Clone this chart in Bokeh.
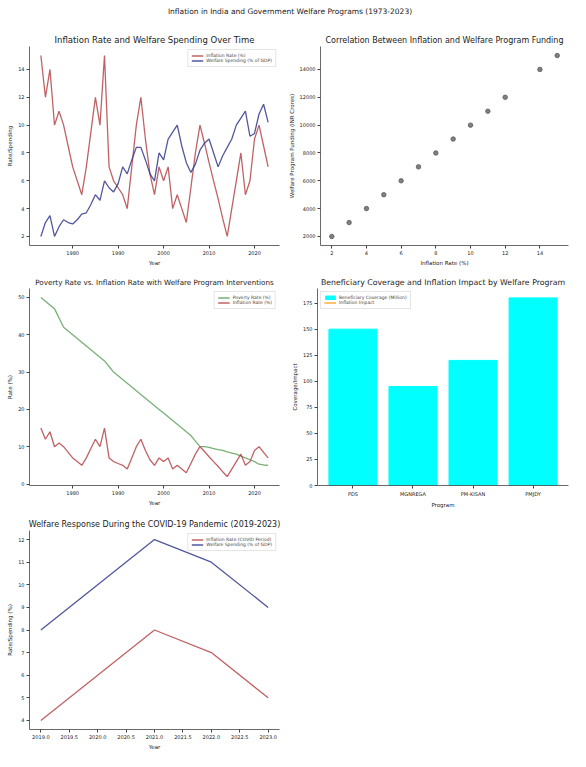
from bokeh.plotting import figure
from bokeh.layouts import column, row
from bokeh.models import Div, FixedTicker, PrintfTickFormatter, Range1d, FactorRange, ColumnDataSource
from bokeh.embed import file_html
from bokeh.resources import INLINE

# ---------------- data ----------------
years = list(range(1973, 2024))
inflation = [15, 12, 14, 10, 11, 10, 8.5, 7, 6, 5,
             7, 9.5, 12, 10, 15, 7, 6, 5.5, 5, 4,
             7, 10, 12, 9, 6.5, 5, 7, 6, 7, 4,
             5, 4, 3, 5.5, 8, 10, 8.7, 7.3, 6, 4.7,
             3.3, 2, 4, 6, 8, 5, 6, 9, 10, 8.5,
             7]
welfare = [2, 3, 3.5, 2, 2.7, 3.2, 3, 2.9, 3.2, 3.6,
           3.7, 4.3, 5, 4.6, 6, 5.5, 5.2, 5.8, 7, 6.5,
           7.5, 8.4, 8.4, 7.5, 6.5, 6, 8, 7.5, 9, 9.5,
           10, 8.5, 7.3, 6.6, 7.2, 8.2, 8.7, 9, 8, 7,
           7.8, 8.4, 9, 10, 10.5, 11, 9.2, 9.4, 10.8, 11.5,
           10.2]
poverty = [50, 49, 48, 47, 44.5, 42, 41, 40, 39, 38,
           37, 36, 35, 34, 33, 31.5, 30, 29, 28, 27,
           26, 25, 24, 23, 22, 21, 20, 19, 18, 17,
           16, 15, 14, 13, 11.5, 10, 10, 9.8, 9.5, 9.2,
           9, 8.6, 8.3, 8, 7.5, 7, 6.5, 6, 5.3, 5.1,
           5]
scatter_inflation = [2, 3, 4, 5, 6, 7, 8, 9, 10, 11, 12, 14, 15]
scatter_funding = [2000, 3000, 4000, 5000, 6000, 7000, 8000, 9000, 10000, 11000, 12000, 14000, 15000]
programs = ["PDS", "MGNREGA", "PM-KISAN", "PMJDY"]
coverage = [150, 95, 120, 180]
covid_years = [2019, 2020, 2021, 2022, 2023]
covid_inflation = [4, 6, 8, 7, 5]
covid_welfare = [8, 10, 12, 11, 9]

year_ticks = [1980, 1990, 2000, 2010, 2020]
covid_ticks = [2019.0, 2019.5, 2020.0, 2020.5, 2021.0, 2021.5, 2022.0, 2022.5, 2023.0]

FONT = "DejaVu Sans"
RED = "#b5474a"
BLUE = "#34398c"
GREEN = "#5fa35f"
W = 285
H = 242


def make_fig(title, title_size, xlabel, ylabel, left, right, **kw):
    p = figure(width=W, height=H, title=title, output_backend="svg", toolbar_location=None,
               min_border_left=left, min_border_right=right, min_border_top=20, min_border_bottom=4, **kw)
    p.title.text_font = FONT
    p.title.text_font_size = title_size
    p.title.text_font_style = "normal"
    p.title.align = "center"
    p.title.text_color = "#222222"
    p.title.standoff = 3
    p.xgrid.visible = False
    p.ygrid.visible = False
    p.outline_line_color = None
    p.xaxis.axis_label = xlabel
    p.yaxis.axis_label = ylabel
    for ax in (p.xaxis, p.yaxis):
        ax.axis_label_text_font = FONT
        ax.axis_label_text_font_size = "5.5px"
        ax.axis_label_text_font_style = "normal"
        ax.axis_label_text_color = "#222222"
        ax.major_label_text_font = FONT
        ax.major_label_text_font_size = "5px"
        ax.major_label_text_color = "#222222"
        ax.minor_tick_line_color = None
        ax.major_tick_out = 3
        ax.major_tick_in = 0
        ax.major_tick_line_color = "#444444"
        ax.axis_line_color = "#444444"
        ax.axis_line_width = 0.8
        ax.axis_label_standoff = 2
        ax.major_label_standoff = 2
    return p


def style_legend(p, location):
    lg = p.legend[0]
    lg.location = location
    lg.label_text_font = FONT
    lg.label_text_font_size = "4.5px"
    lg.label_height = 5
    lg.glyph_height = 5
    lg.glyph_width = 12
    lg.spacing = 0
    lg.padding = 3
    lg.margin = 3
    lg.label_standoff = 3
    lg.border_line_color = "#cccccc"
    lg.background_fill_alpha = 0.85


# ---- chart 1
p1 = make_fig("Inflation Rate and Welfare Spending Over Time", "8.5px", "Year", "Rate/Spending", 29, 6,
              x_range=Range1d(1970.5, 2025.5), y_range=Range1d(1.35, 15.65))
p1.line(years, inflation, color=RED, line_width=1.3, line_alpha=0.85, legend_label="Inflation Rate (%)")
p1.line(years, welfare, color=BLUE, line_width=1.3, line_alpha=0.85, legend_label="Welfare Spending (% of GDP)")
p1.xaxis.ticker = FixedTicker(ticks=year_ticks)
p1.yaxis.ticker = FixedTicker(ticks=[2, 4, 6, 8, 10, 12, 14])
style_legend(p1, "top_right")

# ---- chart 2
p2 = make_fig("Correlation Between Inflation and Welfare Program Funding", "8px", "Inflation Rate (%)",
              "Welfare Program Funding (INR Crores)", 32, 2,
              x_range=Range1d(1.35, 15.65), y_range=Range1d(1350, 15650))
p2.scatter(scatter_inflation, scatter_funding, size=4.5, color="#555555", alpha=0.75)
p2.xaxis.ticker = FixedTicker(ticks=[2, 4, 6, 8, 10, 12, 14])
p2.yaxis.ticker = FixedTicker(ticks=[2000, 4000, 6000, 8000, 10000, 12000, 14000])

# ---- chart 3
p3 = make_fig("Poverty Rate vs. Inflation Rate with Welfare Program Interventions", "7.2px", "Year", "Rate (%)", 29, 6,
              x_range=Range1d(1970.5, 2025.5), y_range=Range1d(-0.4, 52.4))
p3.line(years, poverty, color=GREEN, line_width=1.3, line_alpha=0.85, legend_label="Poverty Rate (%)")
p3.line(years, inflation, color=RED, line_width=1.3, line_alpha=0.85, legend_label="Inflation Rate (%)")
p3.xaxis.ticker = FixedTicker(ticks=year_ticks)
p3.yaxis.ticker = FixedTicker(ticks=[0, 10, 20, 30, 40, 50])
style_legend(p3, "top_right")

# ---- chart 4
p4 = make_fig("Beneficiary Coverage and Inflation Impact by Welfare Program", "7.8px", "Program", "Coverage/Impact", 32, 2,
              x_range=FactorRange(*programs, range_padding=0.045), y_range=Range1d(0, 189))
src4 = ColumnDataSource(dict(program=programs, coverage=coverage))
p4.vbar(x="program", top="coverage", width=0.8, source=src4, color="#00ffff",
        legend_label="Beneficiary Coverage (Million)")
p4.line(x=[programs[0]], y=[float("nan")], color="#ff9f1a", line_width=1.3, legend_label="Inflation Impact")
p4.yaxis.ticker = FixedTicker(ticks=[0, 25, 50, 75, 100, 125, 150, 175])
style_legend(p4, "top_left")

# ---- chart 5
p5 = make_fig("Welfare Response During the COVID-19 Pandemic (2019-2023)", "8px", "Year", "Rate/Spending (%)", 29, 6,
              x_range=Range1d(2018.8, 2023.2), y_range=Range1d(3.6, 12.4))
p5.line(covid_years, covid_inflation, color=RED, line_width=1.3, line_alpha=0.85,
        legend_label="Inflation Rate (COVID Period)")
p5.line(covid_years, covid_welfare, color=BLUE, line_width=1.3, line_alpha=0.85,
        legend_label="Welfare Spending (% of GDP)")
p5.xaxis.ticker = FixedTicker(ticks=covid_ticks)
p5.xaxis.formatter = PrintfTickFormatter(format="%.1f")
p5.yaxis.ticker = FixedTicker(ticks=[4, 5, 6, 7, 8, 9, 10, 11, 12])
style_legend(p5, "top_right")

title = Div(text="Inflation in India and Government Welfare Programs (1973-2023)",
            width=570, height=16,
            styles={"font-family": FONT, "font-size": "7.5px", "color": "#222222",
                    "text-align": "center", "width": "570px", "line-height": "14px"})

layout = column(title, row(p1, p2), row(p3, p4), p5, spacing=0)

open("out.html", "w").write(file_html(layout, INLINE))
